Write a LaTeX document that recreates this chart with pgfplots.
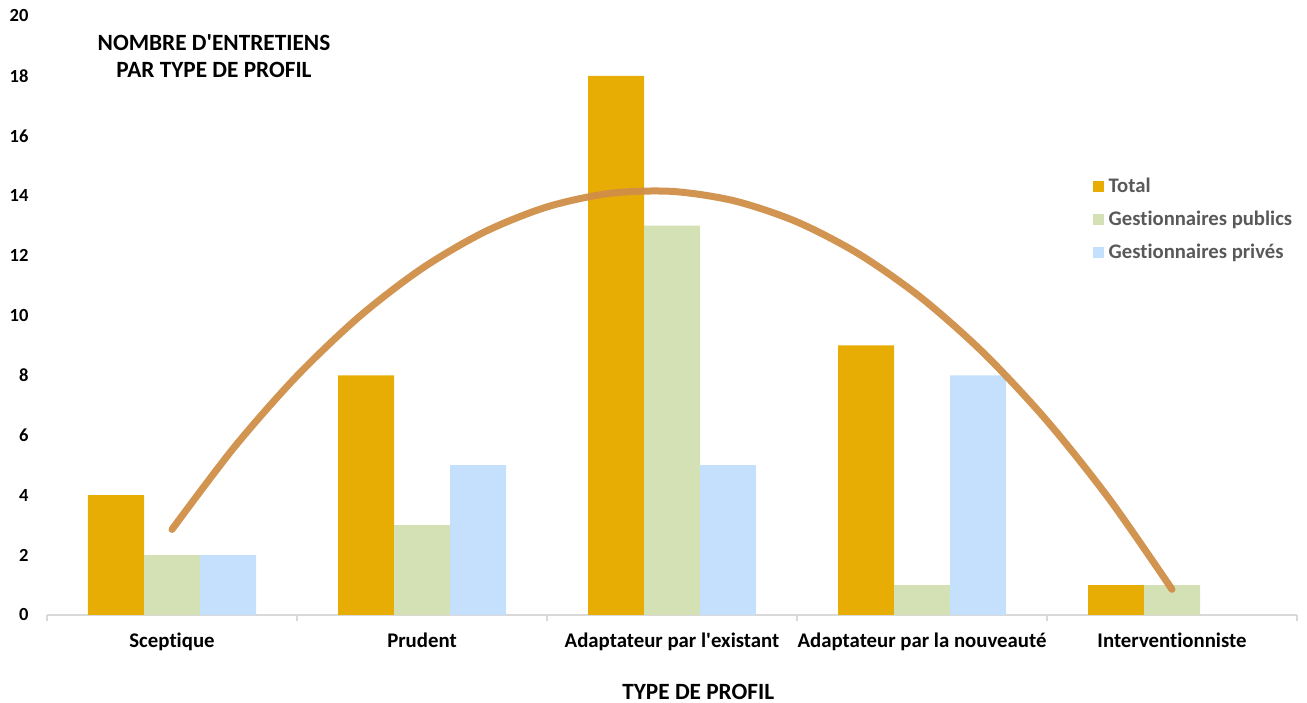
\documentclass[border=0pt]{standalone}
\usepackage{fontspec}
\setmainfont{Carlito}[Ligatures={TeXOff,NoCommon}]
\usepackage{pgfplots}
\pgfplotsset{compat=1.18}
\definecolor{cTotal}{RGB}{232,173,4}
\definecolor{cPub}{RGB}{211,225,181}
\definecolor{cPriv}{RGB}{197,224,252}
\definecolor{cTrend}{RGB}{208,142,72}
\definecolor{cAxis}{RGB}{217,217,217}
\definecolor{cLeg}{RGB}{89,89,89}
\begin{document}
\begin{tikzpicture}
\path[use as bounding box] (-47pt,-88pt) rectangle (1260pt,615pt);
\begin{axis}[
  at={(0pt,0pt)}, anchor=south west,
  scale only axis, width=1250pt, height=599pt,
  xmin=-0.5, xmax=4.5, ymin=0, ymax=20,
  axis y line=none,
  axis x line*=bottom,
  x axis line style={draw=cAxis, line width=1.2pt, -},
  xtick={0,1,2,3,4},
  xticklabels={Sceptique, Prudent, Adaptateur par l'existant, Adaptateur par la nouveauté, Interventionniste},
  major x tick style={draw=none},
  minor xtick={-0.5,0.5,1.5,2.5,3.5,4.5},
  minor x tick style={draw=cAxis, line width=1.2pt},
  minor tick length=6pt,
  tick align=outside,
  xticklabel style={font=\bfseries\fontsize{20.8}{22}\selectfont, yshift=-10pt},
  clip=false,
  legend style={draw=none, fill=none, at={(axis description cs:0.834,0.661)}, anchor=west,
    font=\bfseries\fontsize{20.7}{22}\selectfont, text=cLeg, row sep=13pt, column sep=3pt,
    legend cell align=left},
  legend image code/.code={\fill[#1] (0pt,-5.5pt) rectangle (11pt,5.5pt);},
  /pgf/number format/assume math mode=true,
]
% y tick labels drawn as axis-coordinate nodes
\addplot[only marks, mark=none, forget plot,
  nodes near coords={\pgfmathprintnumber{\pgfplotspointmeta}},
  point meta=y,
  every node near coord/.style={anchor=east, xshift=-15pt, yshift=0pt, font=\bfseries\fontsize{18.5}{20}\selectfont, text=black}]
  coordinates {(-0.5,0) (-0.5,2) (-0.5,4) (-0.5,6) (-0.5,8) (-0.5,10) (-0.5,12) (-0.5,14) (-0.5,16) (-0.5,18) (-0.5,20)};
\addplot[ybar, bar width=56pt, bar shift=-56pt, fill=cTotal, draw=none]
  coordinates {(0,4) (1,8) (2,18) (3,9) (4,1)};
\addlegendentry{Total}
\addplot[ybar, bar width=56pt, bar shift=0pt, fill=cPub, draw=none]
  coordinates {(0,2) (1,3) (2,13) (3,1) (4,1)};
\addlegendentry{Gestionnaires publics}
\addplot[ybar, bar width=56pt, bar shift=56pt, fill=cPriv, draw=none]
  coordinates {(0,2) (1,5) (2,5) (3,8)};
\addlegendentry{Gestionnaires privés}
% polynomial (order 2) trend line of Total
\addplot[smooth, forget plot, draw=cTrend, line width=7pt, line cap=round, opacity=0.95]
  coordinates {(0,2.857) (0.25,5.612) (0.5,7.982) (0.75,9.969) (1,11.571) (1.25,12.790) (1.5,13.625) (1.75,14.076) (2,14.143) (2.25,13.826) (2.5,13.125) (2.75,12.040) (3,10.571) (3.25,8.719) (3.5,6.482) (3.75,3.862) (4,0.857)};
\node[font=\bfseries\fontsize{23.3}{27}\selectfont, align=center] at (axis description cs:0.1336,0.933) {NOMBRE D'ENTRETIENS\\PAR TYPE DE PROFIL};
\node[font=\bfseries\fontsize{23.3}{25}\selectfont] at (axis description cs:0.521,-0.1285) {TYPE DE PROFIL};
\end{axis}
\end{tikzpicture}
\end{document}
